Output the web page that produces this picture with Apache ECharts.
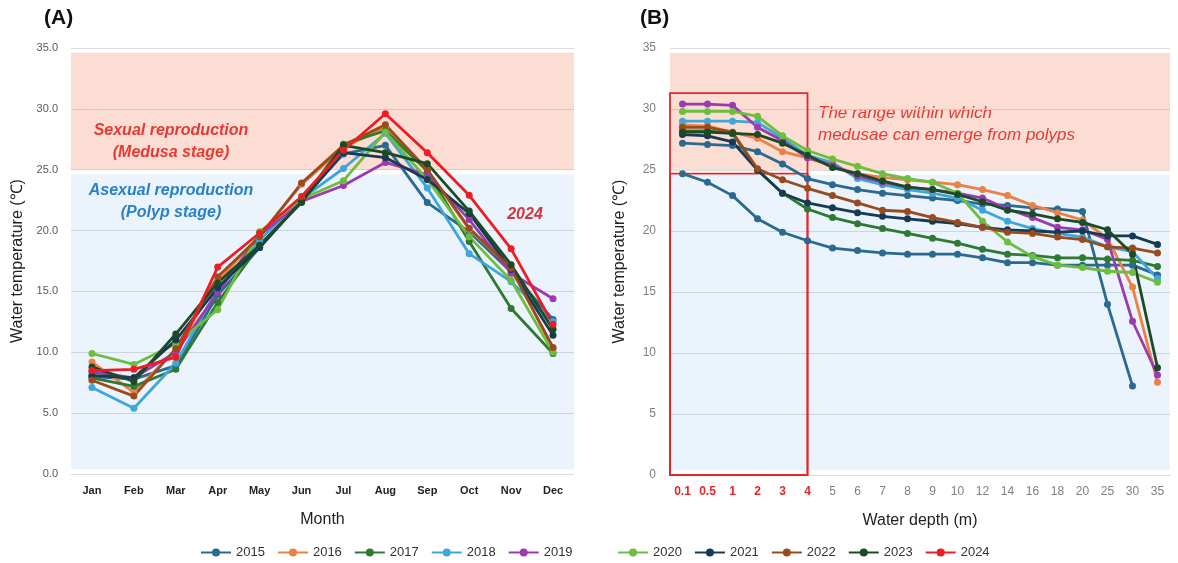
<!DOCTYPE html>
<html><head><meta charset="utf-8">
<script src="https://cdn.jsdelivr.net/npm/echarts@6/dist/echarts.min.js"></script>
<style>html,body{margin:0;padding:0;background:#fff}#c{width:1178px;height:563px}</style>
</head><body><div id="c"></div>
<script>
const months = ['Jan','Feb','Mar','Apr','May','Jun','Jul','Aug','Sep','Oct','Nov','Dec'];
const depths = ['0.1','0.5','1','2','3','4','5','6','7','8','9','10','12','14','16','18','20','25','30','35'];
const years = ['2015','2016','2017','2018','2019','2020','2021','2022','2023','2024'];
const colors = ['#2A6A8E','#EB8145','#2E7A32','#3FA6DB','#9B3CAE','#6DBE3E','#173A52','#9A4B1E','#1D4A26','#EE1C23'];

// Panel A: monthly water temperature
const a2015 = [8.0,7.8,8.9,14.7,18.6,22.5,26.3,27.0,22.3,19.9,16.6,12.7];
const a2016 = [9.2,6.7,10.2,15.8,19.6,23.8,26.8,28.5,25.0,20.1,16.9,10.3];
const a2017 = [7.9,7.2,8.6,14.1,18.8,22.4,27.1,28.2,24.9,19.1,13.6,9.9];
const a2018 = [7.1,5.4,9.1,15.2,19.2,22.6,25.1,28.0,23.5,18.1,15.8,12.5];
const a2019 = [8.4,7.9,10.0,14.9,19.6,22.4,23.7,25.6,24.6,20.9,16.5,14.4];
const a2020 = [9.9,9.0,10.7,13.5,19.9,22.6,24.1,28.1,24.2,19.5,15.9,10.0];
const a2021 = [8.1,7.9,11.0,15.3,18.6,22.4,26.4,26.0,24.2,21.4,16.8,11.4];
const a2022 = [7.7,6.4,10.3,16.2,19.5,23.9,27.0,28.7,25.0,20.2,16.9,10.4];
const a2023 = [8.8,7.6,11.5,15.7,18.8,22.3,27.0,26.4,25.5,21.6,17.2,11.9];
const a2024 = [8.5,8.6,9.6,17.0,19.8,22.8,26.6,29.6,26.4,22.9,18.5,12.3];

// Panel B: water temperature by depth
const b2015 = [24.7,24.0,22.9,21.0,19.9,19.2,18.6,18.4,18.2,18.1,18.1,18.1,17.8,17.4,17.4,17.2,17.2,17.2,17.2,16.4];
const b2015s = [27.2,27.1,27.0,26.5,25.5,24.3,23.8,23.4,23.1,22.9,22.7,22.5,22.2,22.1,21.9,21.8,21.6,14.0,7.3,null];
const b2016 = [28.7,28.6,28.1,27.6,26.5,26.0,25.3,24.7,24.4,24.2,24.0,23.8,23.4,22.9,22.1,21.5,20.9,19.4,15.4,7.6];
const b2017 = [28.2,28.2,28.0,25.0,23.1,21.8,21.1,20.6,20.2,19.8,19.4,19.0,18.5,18.1,18.0,17.8,17.8,17.7,17.6,17.1];
const b2018 = [29.0,29.0,29.0,28.9,27.6,26.2,25.6,24.3,23.8,23.4,23.1,22.7,21.7,20.8,20.2,19.8,19.5,18.7,18.3,16.1];
const b2019 = [30.4,30.4,30.3,28.5,27.4,26.0,25.4,24.5,24.0,23.6,23.4,23.1,22.7,21.8,21.1,20.3,20.1,19.3,12.6,8.2];
const b2020 = [29.8,29.8,29.8,29.4,27.8,26.6,25.9,25.3,24.7,24.3,24.0,23.1,20.8,19.1,17.9,17.2,17.0,16.7,16.6,15.8];
const b2021 = [27.9,27.8,27.3,25.0,23.1,22.3,21.9,21.5,21.2,21.0,20.8,20.6,20.3,20.1,20.0,19.9,20.0,19.6,19.6,18.9];
const b2022 = [28.5,28.5,28.1,25.1,24.2,23.5,22.9,22.3,21.7,21.6,21.1,20.7,20.3,19.9,19.8,19.5,19.3,18.7,18.6,18.2];
const b2023 = [28.1,28.1,28.0,27.9,27.2,26.2,25.2,24.7,24.1,23.6,23.4,23.0,22.4,21.7,21.4,21.0,20.7,20.1,18.1,8.8];

const redDepths = ['0.1','0.5','1','2','3','4'];

const aData = [a2015,a2016,a2017,a2018,a2019,a2020,a2021,a2022,a2023,a2024];
const bSeriesDef = [
  ['2015', b2015, 0], ['2015', b2015s, 0], ['2016', b2016, 1], ['2017', b2017, 2], ['2018', b2018, 3],
  ['2019', b2019, 4], ['2020', b2020, 5], ['2021', b2021, 6], ['2022', b2022, 7], ['2023', b2023, 8]
];

const FONT = 'Liberation Sans, Arial, sans-serif';
const chart = echarts.init(document.getElementById('c'));

function lineSeries(name, data, color, axisIdx) {
  return {
    type: 'line', name: name, data: data, xAxisIndex: axisIdx, yAxisIndex: axisIdx,
    symbol: 'circle', symbolSize: 7, color: color,
    lineStyle: { width: 2.8, color: color }, itemStyle: { color: color },
    connectNulls: false, animation: false
  };
}

function bandSeries(axisIdx) {
  return {
    type: 'line', data: [], xAxisIndex: axisIdx, yAxisIndex: axisIdx, silent: true, animation: false,
    markArea: {
      silent: true,
      data: [
        [{ yAxis: 25, itemStyle: { color: 'rgba(240,120,80,0.25)' } }, { yAxis: 34.6 }],
        [{ yAxis: 0.4, itemStyle: { color: 'rgba(100,160,230,0.13)' } }, { yAxis: 24.6 }]
      ]
    }
  };
}

const series = [bandSeries(0), bandSeries(1)];
aData.forEach((d, i) => series.push(lineSeries(years[i], d, colors[i], 0)));
bSeriesDef.forEach(s => series.push(lineSeries(s[0], s[1], colors[s[2]], 1)));
series.push({
  type: 'line', data: [], xAxisIndex: 1, yAxisIndex: 1, silent: true, animation: false, z: 5,
  markArea: {
    silent: true,
    itemStyle: { color: 'rgba(0,0,0,0)', borderColor: '#E3262B', borderWidth: 1.8 },
    data: [
      [{ yAxis: 31.3 }, { xAxis: '4', yAxis: 0 }],
      [{ yAxis: 24.7 }, { xAxis: '4', yAxis: 0 }]
    ]
  }
});

const option = {
  backgroundColor: '#fff',
  textStyle: { fontFamily: FONT },
  animation: false,
  legend: [
    { data: years.slice(0,5), left: 195, top: 541, itemWidth: 30, itemHeight: 10, itemGap: 12,
      textStyle: { fontSize: 13, color: '#333', fontFamily: FONT } },
    { data: years.slice(5), left: 612, top: 541, itemWidth: 30, itemHeight: 10, itemGap: 12,
      textStyle: { fontSize: 13, color: '#333', fontFamily: FONT } }
  ],
  grid: [
    { left: 71, right: 604, top: 48, bottom: 89 },
    { left: 670, right: 8, top: 48, bottom: 88 }
  ],
  xAxis: [
    { type: 'category', gridIndex: 0, data: months, boundaryGap: true,
      name: 'Month', nameLocation: 'middle', nameGap: 38,
      nameTextStyle: { fontSize: 16, color: '#222', fontFamily: FONT },
      axisLine: { show: false }, axisTick: { show: false },
      axisLabel: { interval: 0, fontSize: 11, fontWeight: 'bold', color: '#222', margin: 11 } },
    { type: 'category', gridIndex: 1, data: depths, boundaryGap: true,
      name: 'Water depth (m)', nameLocation: 'middle', nameGap: 38,
      nameTextStyle: { fontSize: 16, color: '#222', fontFamily: FONT },
      axisLine: { show: true, lineStyle: { color: '#D9D9D9' } }, axisTick: { show: false },
      axisLabel: { interval: 0, hideOverlap: false, fontSize: 12, margin: 11,
        formatter: v => redDepths.includes(v) ? '{r|' + v + '}' : '{g|' + v + '}',
        rich: { r: { color: '#E3262B', fontWeight: 'bold', fontSize: 12, fontFamily: FONT },
                g: { color: '#7F7F7F', fontSize: 12, fontFamily: FONT } } } }
  ],
  yAxis: [
    { type: 'value', gridIndex: 0, min: 0, max: 35, interval: 5,
      name: 'Water temperature (℃)', nameLocation: 'middle', nameGap: 45, nameRotate: 90,
      nameTextStyle: { fontSize: 16, color: '#222', fontFamily: FONT },
      axisLine: { show: false }, axisTick: { show: false },
      splitLine: { lineStyle: { color: '#DCDCDC', width: 1 } },
      axisLabel: { fontSize: 11, color: '#595959', margin: 13, formatter: v => v.toFixed(1) } },
    { type: 'value', gridIndex: 1, min: 0, max: 35, interval: 5,
      name: 'Water temperature (℃)', nameLocation: 'middle', nameGap: 42, nameRotate: 90,
      nameTextStyle: { fontSize: 16, color: '#222', fontFamily: FONT },
      axisLine: { show: false }, axisTick: { show: false },
      splitLine: { lineStyle: { color: '#DCDCDC', width: 1 } },
      axisLabel: { fontSize: 12, color: '#7F7F7F', margin: 14 } }
  ],
  graphic: [
    { type: 'text', left: 44, top: 8, style: { text: '(A)', font: 'bold 21px ' + FONT, fill: '#111' } },
    { type: 'text', left: 640, top: 8, style: { text: '(B)', font: 'bold 21px ' + FONT, fill: '#111' } },
    { type: 'text', x: 171, y: 120, style: { text: 'Sexual reproduction\n(Medusa stage)', font: 'italic bold 16px ' + FONT,
      fill: '#E3262B', align: 'center', lineHeight: 22 } },
    { type: 'text', x: 171, y: 180, style: { text: 'Asexual reproduction\n(Polyp stage)', font: 'italic bold 16px ' + FONT,
      fill: '#1F7BC4', align: 'center', lineHeight: 22 } },
    { type: 'text', x: 525, y: 207, style: { text: '2024', font: 'italic bold 16px ' + FONT, fill: '#E3262B', align: 'center' } },
    { type: 'text', x: 818, y: 102, style: { text: 'The range within which\nmedusae can emerge from polyps', font: 'italic 17px ' + FONT,
      fill: '#E3262B', lineHeight: 22 } }
  ],
  series: series
};
chart.setOption(option);
</script></body></html>
